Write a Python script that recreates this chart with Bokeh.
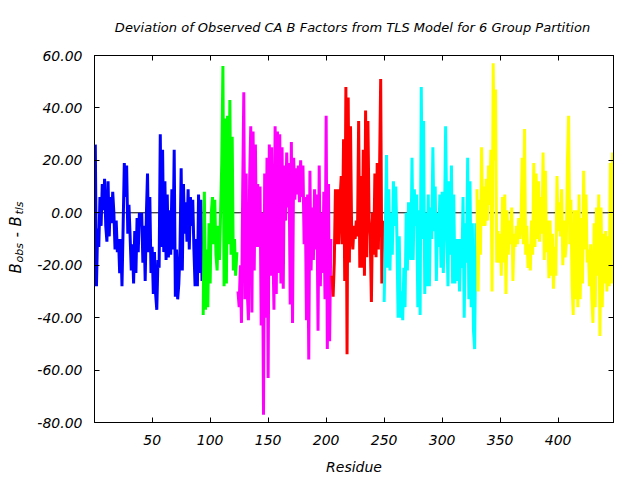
import numpy as np
from bokeh.plotting import figure
from bokeh.layouts import row
from bokeh.models import (Range1d, LinearAxis, FixedTicker, PrintfTickFormatter,
                          CustomJSTickFormatter, Label, Span)
from bokeh.embed import file_html
from bokeh.resources import INLINE

# ---------------- data ----------------
title_text = "Deviation of Observed CA B Factors from TLS Model for 6 Group Partition"
x_label = "Residue"
x_ticks = [50, 100, 150, 200, 250, 300, 350, 400]
y_ticks = [-80, -60, -40, -20, 0, 20, 40, 60]

group_colors = ["#0000ff", "#00ff00", "#ff00ff", "#ff0000", "#00ffff", "#ffff00"]
group_starts = [1, 94, 124, 205, 250, 330]

blue_vals = [26, -28, -6, -13, 6, -5, 11, 1, 13, -5,
             -11, 12, -9, 6, -4, 8, 0, -14, -3, -15,
             -10, -23, -10, -28, -5, 19, 6, 18, -8, 3,
             -9, -22, -12, -27, -7, -23, -2, -15, 0, -5,
             0, -19, -5, -26, -1, 15, -15, 6, -23, -13,
             -31, -15, -31, -37, -18, -21, 30, -13, 24, -15,
             12, -18, 7, -17, 1, -16, 9, -14, 24, -32,
             -14, -33, -27, -14, 17, -22, 11, -8, 4, -11,
             9, -14, 6, -5, 5, -14, -28, -10, -28, 7,
             -23, 5, -26]
green_vals = [-39, 8, -37, -14, -36, -4, -27, 0, 6, -12,
              5, -16, -22, -5, -18, 0, 19, 56, -28, 36,
              -27, 37, -12, 43, -16, 29, -22, -10, -24, -15]
magenta_vals = [-30, -36, -20, -42, 6, 46, -33, 15, -30, -41,
                12, 33, -38, 31, -22, 26, -13, 11, -13, 10,
                -43, 0, -77, 15, -40, 21, -63, 26, -24, 25,
                -10, -37, 33, -31, 31, -23, 30, -27, 25, -29,
                18, -3, 23, 2, 19, -35, 27, -42, 21, 5,
                17, 7, 18, 4, 20, 6, 18, -12, 6, -41,
                7, -56, 16, -22, 2, -18, 9, -14, 7, -45,
                18, -28, 0, -23, 8, -33, 37, -52, 11, -49,
                -10]
red_vals = [-24, -32, -19, 9, -12, 9, -12, 5, 14, -12,
            28, -26, 48, -54, 44, -19, 33, -9, -14, -5,
            -10, -3, -9, 35, -21, 14, -21, 24, -24, 39,
            -17, 35, -2, -9, -34, 0, -16, 15, -17, 19,
            -14, 15, 51, -27, -3]
cyan_vals = [-34, -7, 22, -21, 9, -22, 0, -16, 12, -5,
             10, -9, -40, -9, -40, -30, -41, -21, -36, 0,
             -22, 4, -13, -18, 21, -18, 9, -5, 7, -36,
             1, -39, 48, -10, 35, -31, 0, -28, 7, -28,
             2, -10, 25, -7, 10, -26, 0, -13, 7, -21,
             8, -23, -4, 33, -4, -28, 12, -16, 18, -27,
             7, -27, -10, -26, -10, -30, -10, -21, 6, -40,
             -4, -19, 21, -33, 12, -36, -4, -45, -52, -4]
yellow_vals = [9, -30, 5, -16, 25, -5, 10, -5, 13, -3,
               18, 3, 24, -30, 57, 20, 47, -19, -7, -19,
               -8, -24, 6, -19, 7, -31, 1, -16, -3, -12,
               2, -26, -8, -13, -5, -12, -2, -10, -3, 21,
               -12, 32, -16, -5, -21, -12, -22, -3, -16, 19,
               -13, 15, -10, 12, -11, 6, -8, 23, -18, 16,
               -15, -3, -25, -3, -24, -8, -29, -13, -24, 14,
               -7, 4, -9, 9, -20, -3, -17, -12, 20, 37,
               -12, 5, -28, -39, 1, -33, 1, -36, 7, -33,
               -2, -27, 16, -14, 7, -19, -14, -28, -12, -33,
               -42, -4, -36, 2, -24, 7, -47, 2, -36, -8,
               -27, -7, -30, -9, -28, 19, -27, 23]

groups = [blue_vals, green_vals, magenta_vals, red_vals, cyan_vals, yellow_vals]

# ---------------- figure ----------------
FONT = "DejaVu Sans"
LAB_W = 30   # width of the strip that holds the y-axis title

p = figure(width=640 - LAB_W, height=480, output_backend="svg", toolbar_location=None,
           x_range=Range1d(0.3, 447.7), y_range=Range1d(-80, 60),
           min_border_left=94 - LAB_W, min_border_right=27,
           min_border_top=55, min_border_bottom=58)
p.background_fill_color = "white"
p.border_fill_color = "white"
p.outline_line_color = "black"
p.outline_line_width = 1
p.xgrid.visible = False
p.ygrid.visible = False

# zero line under the data
p.add_layout(Span(location=0, dimension="width", line_color="black",
                  line_width=1, level="underlay"))

for vals, start, col in zip(groups, group_starts, group_colors):
    res = np.arange(start, start + len(vals))
    p.line(res, vals, line_color=col, line_width=3, line_join="bevel", line_cap="butt")

def style_axis(ax, ticks):
    ax.ticker = FixedTicker(ticks=ticks)
    ax.major_tick_in = 5
    ax.major_tick_out = 0
    ax.minor_tick_line_color = None
    ax.axis_line_color = "black"
    ax.major_tick_line_color = "black"
    ax.major_label_text_font = FONT
    ax.major_label_text_font_style = "italic"
    ax.major_label_text_font_size = "14px"
    ax.major_label_text_color = "black"

style_axis(p.xaxis[0], x_ticks)
style_axis(p.yaxis[0], y_ticks)
p.yaxis[0].formatter = PrintfTickFormatter(format="%.2f")
p.xaxis[0].major_label_standoff = 12
p.yaxis[0].major_label_standoff = 12
p.xaxis[0].axis_label = x_label
p.xaxis[0].axis_label_text_font = FONT
p.xaxis[0].axis_label_text_font_style = "italic"
p.xaxis[0].axis_label_text_font_size = "14px"
p.xaxis[0].axis_label_text_color = "black"
p.xaxis[0].axis_label_standoff = 11

blank = CustomJSTickFormatter(code="return ''")
ax_top = LinearAxis(formatter=blank)
style_axis(ax_top, x_ticks)
ax_top.major_label_standoff = 0
p.add_layout(ax_top, "above")
ax_right = LinearAxis(formatter=blank)
style_axis(ax_right, y_ticks)
ax_right.major_label_standoff = 0
p.add_layout(ax_right, "right")

# title: a label placed in the top panel (not clipped to the frame)
p.add_layout(Label(x=352 - LAB_W, y=27, x_units="canvas", y_units="canvas",
                   text=title_text, text_align="center", text_baseline="middle",
                   text_font=FONT, text_font_style="italic", text_font_size="13px",
                   text_color="black"), "above")

# strip with the composite y-axis title  B_obs - B_tls
ylab = figure(width=LAB_W, height=480, output_backend="svg", toolbar_location=None,
              x_range=Range1d(0, 1), y_range=Range1d(0, 1),
              min_border=0, min_border_left=0, min_border_right=0,
              min_border_top=0, min_border_bottom=0)
ylab.axis.visible = False
ylab.grid.visible = False
ylab.outline_line_color = None
ylab.background_fill_color = "white"
ylab.border_fill_color = "white"

ylab_parts = [("B", 273, 0, "15px"), ("obs", 262, 4, "11px"),
              ("-", 237, 0, "15px"), ("B", 226, 0, "15px"),
              ("tls", 214, 4, "11px")]
for txt, yy, dx, fs in ylab_parts:
    ylab.add_layout(Label(x=15 + dx, y=yy, x_units="canvas", y_units="canvas",
                          text=txt, angle=np.pi / 2, text_align="left",
                          text_baseline="middle", text_font=FONT,
                          text_font_style="italic", text_font_size=fs,
                          text_color="black"))

layout = row(ylab, p, spacing=0)
open("out.html", "w").write(file_html(layout, INLINE))
